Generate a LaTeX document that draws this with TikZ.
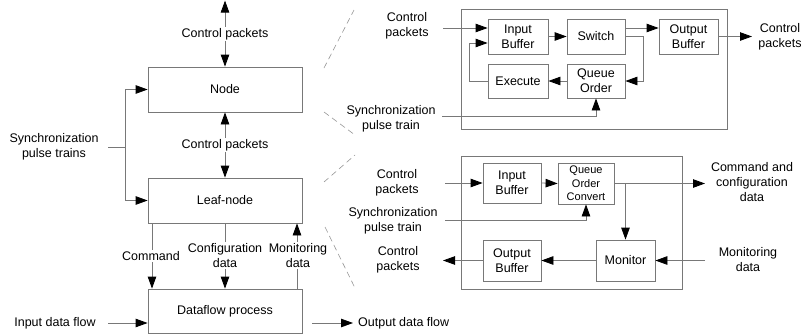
\documentclass[tikz,border=0pt]{standalone}
\usepackage{fontspec}
\setmainfont{Liberation Sans}
\usetikzlibrary{arrows.meta}
\definecolor{linegray}{RGB}{120,120,120}
\definecolor{dashgray}{RGB}{150,150,150}
\newcommand\mainf{\fontsize{12.5}{15}\selectfont}
\newcommand\smallf{\fontsize{11}{13.5}\selectfont}
\tikzset{
  ln/.style={draw=linegray, line width=0.8pt},
  arr/.style={ln, -{Triangle[length=12pt,width=8.5pt,color=black]}},
  darr/.style={ln, {Triangle[length=12pt,width=8.5pt,color=black]}-{Triangle[length=12pt,width=8.5pt,color=black]}},
  box/.style={draw=linegray, line width=0.8pt, inner sep=0pt, align=center, font=\mainf},
  lbl/.style={align=center, font=\mainf, inner sep=1pt},
  wlbl/.style={lbl, fill=white},
  dsh/.style={draw=dashgray, line width=0.6pt, dash pattern=on 6pt off 4pt},
}
\begin{document}
\begin{tikzpicture}[x=1pt,y=-1pt]
\useasboundingbox (0,0) rectangle (806,335);

% ---------- left column ----------
\node[box, minimum width=154pt, minimum height=45pt] (Node) at (225,89.5) {Node};
\node[box, minimum width=154pt, minimum height=45pt] (Leaf) at (225,200.5) {Leaf-node};
\node[box, minimum width=154pt, minimum height=44pt] (DF) at (225,311) {Dataflow process};

\draw[darr] (Node.north) -- ++(0,-66);
\draw[darr] (Node.south) -- (Leaf.north);

\node[lbl] (sync) at (54,147) {Synchronization\\pulse trains};
\coordinate (s0) at (108,147);
\coordinate (sj) at (125,147);
\draw[ln] (s0) -- (sj);
\draw[arr] (sj) |- (Node.west);
\draw[arr] (sj) |- (Leaf.west);

\draw[arr] ([xshift=-73pt]Leaf.south) -- ([xshift=-73pt]DF.north);
\draw[arr] (Leaf.south) -- (DF.north);
\draw[arr] ([xshift=72pt]DF.north) -- ([xshift=72pt]Leaf.south);

\node[wlbl] (cp0) at (225,34) {Control packets};
\node[wlbl] (cp1) at (225,145) {Control packets};
\node[wlbl] (cmd) at (151,256) {Command};
\node[wlbl] (cfg) at (225,255.5) {Configuration\\data};
\node[wlbl] (mon) at (298,255.5) {Monitoring\\data};

\node[lbl] (inl) at (55,323) {Input data flow};
\coordinate (in0) at (108,323);
\draw[arr] (in0) -- (in0 -| DF.west);
\node[lbl, anchor=west] (outl) at (357,323) {Output data flow};
\coordinate (out0) at (312,323);
\draw[arr] (out0) -- ([xshift=-4pt]outl.west);

% dashed zoom lines
\draw[dsh] (324,68) -- (354,10);
\draw[dsh] (324,112) -- (355,135);
\draw[dsh] (324,182) -- (355,155);
\draw[dsh] (325,227) -- (355,288);

% ---------- top right: Node detail ----------
\node[box, minimum width=266pt, minimum height=120pt] (TR) at (594,69) {};
\node[box, minimum width=60pt, minimum height=35pt] (IB1) at (518,36.5) {Input\\Buffer};
\node[box, minimum width=58pt, minimum height=35pt] (SW) at (596,36.5) {Switch};
\node[box, minimum width=59pt, minimum height=35pt] (OB1) at (688.5,36.5) {Output\\Buffer};
\node[box, minimum width=60pt, minimum height=34pt] (EX) at (518,81) {Execute};
\node[box, minimum width=58pt, minimum height=34pt] (QO) at (596,81) {Queue\\Order};

\node[lbl] (cpA) at (407,26) {Control\\packets};
\coordinate (cpAs) at (443,28);
\draw[arr] (cpAs) -- (cpAs -| IB1.west);
\draw[arr] (IB1.east) -- (SW.west);
\draw[arr] ([yshift=8.5pt]SW.east) -- ([yshift=8.5pt]OB1.west);
\draw[arr] (SW.east) -- ++(18,0) |- (QO.east);
\draw[arr] (QO.west) -- (EX.east);
\draw[arr] (EX.west) -- ++(-18,0) |- ([yshift=-6.5pt]IB1.west);
\coordinate (cpBs) at (752,36.5);
\draw[arr] (OB1.east) -- (cpBs);
\node[lbl] (cpB) at (780,36.5) {Control\\packets};
\node[lbl] (syA) at (391,118.5) {Synchronization\\pulse train};
\coordinate (syAs) at (442,116);
\draw[arr] (syAs) -| (QO.south);

% ---------- bottom right: Leaf-node detail ----------
\node[box, minimum width=221pt, minimum height=133pt] (BR) at (571.5,222.5) {};
\node[box, minimum width=58pt, minimum height=40pt] (IB2) at (512,183) {Input\\Buffer};
\node[box, minimum width=56pt, minimum height=41pt, font=\smallf] (QOC) at (586,183.5) {Queue\\Order\\Convert};
\node[box, minimum width=58pt, minimum height=41pt] (OB2) at (512,260.5) {Output\\Buffer};
\node[box, minimum width=59pt, minimum height=41pt] (MON) at (625.5,260.5) {Monitor};

\node[lbl] (cpC) at (397,182.5) {Control\\packets};
\coordinate (cpCs) at (445,183);
\draw[arr] (cpCs) -- (cpCs -| IB2.west);
\draw[arr] (IB2.east) -- (QOC.west);
\coordinate (cmdo) at (705,183.5);
\draw[arr] (QOC.east) -- (cmdo);
\node[lbl] (cac) at (752,182) {Command and\\configuration\\data};
\draw[arr] (QOC.east -| MON.north) -- (MON.north);
\node[lbl] (syB) at (393,220.5) {Synchronization\\pulse train};
\coordinate (syBs) at (445,220);
\draw[arr] (syBs) -| (QOC.south);
\draw[arr] (MON.west) -- (OB2.east);
\coordinate (cpDs) at (443,260.5);
\draw[arr] (OB2.west) -- (cpDs);
\node[lbl] (cpD) at (398,259.5) {Control\\packets};
\coordinate (mds) at (705,260.5);
\draw[arr] (mds) -- (MON.east);
\node[lbl] (md) at (748,259.5) {Monitoring\\data};
\end{tikzpicture}
\end{document}
